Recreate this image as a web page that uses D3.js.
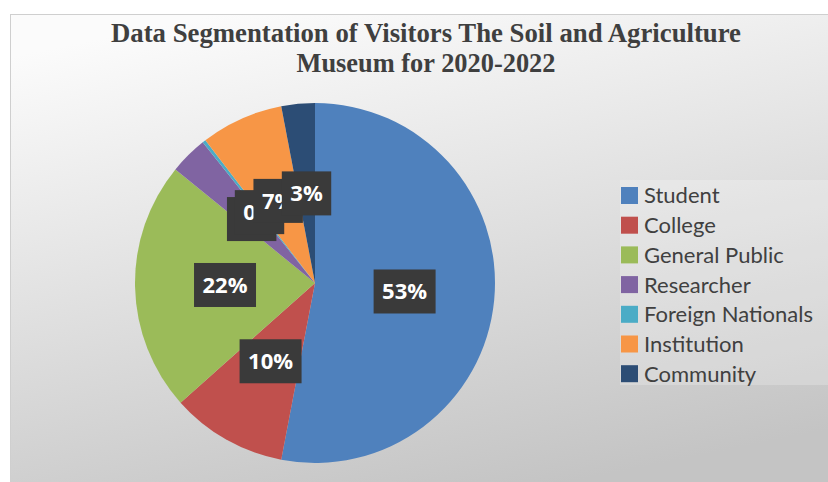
<!DOCTYPE html>
<html>
<head>
<meta charset="utf-8">
<script src="https://cdn.jsdelivr.net/npm/d3@7"></script>
<style>
  body { margin: 0; background: #fff; }
  svg { display: block; }
</style>
</head>
<body>
<svg id="chart" width="828" height="482"></svg>
<script>
// visitor segments, share of visitors 2020-2022 (percent)
var categories = ['Student', 'College', 'General Public', 'Researcher', 'Foreign Nationals', 'Institution', 'Community'];
var shares = [52.9, 10.4, 22.4, 3.4, 0.3, 7.4, 3.0];
var colors = ['#4f81bd', '#c0504d', '#9bbb59', '#8064a2', '#4bacc6', '#f79646', '#2c4d75'];
var titleLines = ['Data Segmentation of Visitors The Soil and Agriculture', 'Museum for 2020-2022'];

var svg = d3.select('#chart'),
    total = d3.sum(shares),
    data = categories.map(function(c, i){ return { name : c, value : shares[i], color : colors[i] }; });

// chart background
var defs = svg.append('defs');
var grad = defs.append('linearGradient')
    .attr('id', 'bg')
    .attr('x1', '0.25').attr('y1', '0')
    .attr('x2', '0.6').attr('y2', '1');
grad.append('stop').attr('offset', '0').attr('stop-color', '#fbfbfb');
grad.append('stop').attr('offset', '1').attr('stop-color', '#c4c4c4');

svg.append('rect')
    .attr('x', 10.5).attr('y', 14.5)
    .attr('width', 830).attr('height', 480)
    .attr('fill', 'url(#bg)')
    .attr('stroke', '#cfcfcf');

// title
var widths = [630, 259];
svg.append('g').selectAll('text')
    .data(titleLines)
    .join('text')
    .attr('x', 426)
    .attr('y', function(d, i){ return 42 + i * 30; })
    .attr('text-anchor', 'middle')
    .attr('font-family', '"Liberation Serif", "Times New Roman", serif')
    .attr('font-weight', 'bold')
    .attr('font-size', 27)
    .attr('fill', '#3f3f3f')
    .attr('textLength', function(d, i){ return widths[i]; })
    .attr('lengthAdjust', 'spacingAndGlyphs')
    .text(function(d){ return d; });

// pie
var radius = 180,
    cx = 315,
    cy = 283;

var pie = d3.pie().sort(null).value(function(d){ return d.value; }),
    arc = d3.arc().innerRadius(0).outerRadius(radius),
    arcs = pie(data);

var g = svg.append('g').attr('transform', 'translate(' + cx + ',' + cy + ')');

g.selectAll('path.slice')
    .data(arcs)
    .join('path')
    .attr('class', 'slice')
    .attr('d', arc)
    .attr('fill', function(d){ return d.data.color; });

// data labels, drawn in series order so later ones sit on top (as in the original)
var labels = g.selectAll('g.label')
    .data(arcs)
    .join('g')
    .attr('class', 'label')
    .attr('transform', function(d){ return 'translate(' + arc.centroid(d) + ')'; });

labels.each(function(d){
    var lab = d3.select(this),
        txt = Math.round(d.data.value / total * 100) + '%',
        box = lab.append('rect').attr('fill', '#3a3a3a'),
        t = lab.append('text')
            .attr('text-anchor', 'middle')
            .attr('dy', '0.36em')
            .attr('font-family', '"Open Sans", sans-serif')
            .attr('font-weight', 'bold')
            .attr('font-size', 22)
            .attr('fill', '#fff')
            .text(txt),
        w = t.node().getComputedTextLength() + 17,
        h = 44;
    box.attr('x', -w / 2).attr('y', -h / 2).attr('width', w).attr('height', h);
});

// legend
var legend = svg.append('g').attr('transform', 'translate(620,180)');
legend.append('rect')
    .attr('width', 220).attr('height', 205)
    .attr('fill', '#ffffff').attr('fill-opacity', 0.22);

var rowH = 29.7;
var items = legend.selectAll('g.item')
    .data(data)
    .join('g')
    .attr('class', 'item')
    .attr('transform', function(d, i){ return 'translate(0,' + (15.5 + i * rowH) + ')'; });

items.append('rect')
    .attr('x', 1).attr('y', -8.5)
    .attr('width', 17).attr('height', 17)
    .attr('fill', function(d){ return d.color; });

items.append('text')
    .attr('x', 24)
    .attr('dy', '0.36em')
    .attr('font-family', 'Lato, "Open Sans", sans-serif')
    .attr('font-size', 22)
    .attr('fill', '#404040')
    .text(function(d){ return d.name; });
</script>
</body>
</html>
